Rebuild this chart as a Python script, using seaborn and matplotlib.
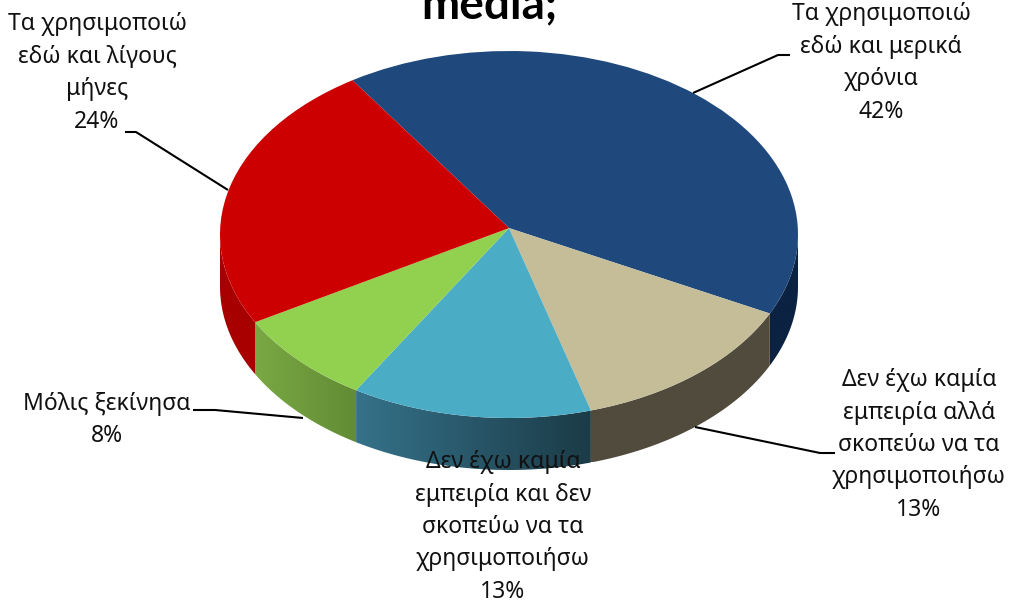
import numpy as np
import matplotlib
matplotlib.use("Agg")
import matplotlib.pyplot as plt
import seaborn as sns
from matplotlib.patches import Polygon
from matplotlib.path import Path
from matplotlib.transforms import Transform, Affine2D
from matplotlib.colors import LinearSegmentedColormap

# Survey answers, clockwise from the top-left edge of the disc
labels = [
    "Τα χρησιμοποιώ\nεδώ και μερικά\nχρόνια\n42%",
    "Δεν έχω καμία\nεμπειρία αλλά\nσκοπεύω να τα\nχρησιμοποιήσω\n13%",
    "Δεν έχω καμία\nεμπειρία και δεν\nσκοπεύω να τα\nχρησιμοποιήσω\n13%",
    "Μόλις ξεκίνησα\n8%",
    "Τα χρησιμοποιώ\nεδώ και λίγους\nμήνες\n24%",
]
values = [42, 13, 13, 8, 24]
top_colors = ["#1f497d", "#c4bd97", "#4bacc6", "#92d050", "#cc0000"]
side_left = ["#0b2242", "#504b3c", "#35728a", "#7aa843", "#a80000"]
side_right = ["#0b2242", "#504b3c", "#1b3b47", "#628c35", "#a80000"]
title_tail = "media;"

WIDTH, HEIGHT = 1012, 606
CX, CY, RX, RY = 509.0, 234.5, 289.0, 183.5
DEPTH = 52.0
TILT = 0.035
START = 123.9

sns.set_theme(style="white")
plt.rcParams["font.family"] = ["Noto Sans", "DejaVu Sans"]


class Tilt(Transform):
    """Projective map of the unit disc onto itself that shifts its centre upward."""
    input_dims = output_dims = 2
    has_inverse = False

    def transform_non_affine(self, xy):
        xy = np.asarray(xy, dtype=float)
        den = 1 + TILT * xy[:, 1]
        return np.column_stack([xy[:, 0] * np.sqrt(1 - TILT ** 2) / den,
                                (xy[:, 1] + TILT) / den])

    def transform_path_non_affine(self, path):
        return Path(self.transform_non_affine(path.vertices), path.codes)


tilt = Tilt()
fig = plt.figure(figsize=(WIDTH / 100, HEIGHT / 100), dpi=100)
ax = fig.add_axes([0, 0, 1, 1])

wedges, _ = ax.pie(values, colors=sns.color_palette(top_colors), startangle=START,
                   counterclock=False, radius=1.0, wedgeprops={"linewidth": 0})
for w in wedges:
    w.set_transform(tilt + ax.transData)
    w.set_zorder(3)

ax.axis("off")

# Rim of the disc: only the part of each slice facing the viewer
depth = DEPTH / RY
edge = np.degrees(np.arcsin(TILT))
angle = START
for share, c0, c1 in zip(values, side_left, side_right):
    t1, t2 = angle, angle - share * 3.6
    angle = t2
    hi, lo = min(t1, -edge), max(t2, -180 + edge)
    if hi <= lo:
        continue
    th = np.radians(np.linspace(hi, lo, 80))
    rim = tilt.transform_non_affine(np.column_stack([np.cos(th), np.sin(th)]))
    lower = rim[::-1] - [0, depth]
    poly = np.vstack([rim, lower])
    clip = Polygon(poly, closed=True, transform=ax.transData, facecolor="none", edgecolor="none")
    ax.add_patch(clip)
    cmap = LinearSegmentedColormap.from_list("rim", [c0, c1])
    img = ax.imshow(np.linspace(0, 1, 128).reshape(1, -1), cmap=cmap, aspect="auto", zorder=2,
                    extent=[poly[:, 0].min(), poly[:, 0].max(), poly[:, 1].min(), poly[:, 1].max()])
    img.set_clip_path(clip)

ax.set_aspect("auto")
ax.set_xlim((0 - CX) / RX, (WIDTH - CX) / RX)
ax.set_ylim((CY - HEIGHT) / RY, CY / RY)

# Text and leader lines are laid out in pixels from the top-left corner
px = Affine2D().scale(1, -1).translate(0, HEIGHT)
FS = 16.5
label_pos = [(881, 63), (919, 445), (503, 527), (107, 420), (97, 73)]
for text, (x, y) in zip(labels, label_pos):
    ax.text(x, y, text, transform=px, ha="center", va="center", fontsize=FS,
            color="#111111", linespacing=1.47, zorder=6, clip_on=False)

ax.text(421, 18, title_tail, transform=px, ha="left", va="baseline", fontsize=33,
        family="Lato", fontweight="bold", color="black", zorder=6)

leaders = [
    ([693, 778, 790], [93, 55, 55]),
    ([695, 820, 835], [427, 453, 453]),
    ([193, 215, 303], [410, 410, 418]),
    ([125, 136, 228], [132, 132, 190]),
]
for xs, ys in leaders:
    ax.plot(xs, ys, transform=px, color="black", lw=1.5, zorder=5, solid_capstyle="butt")

fig.savefig("out.png", dpi=100, facecolor="white")
